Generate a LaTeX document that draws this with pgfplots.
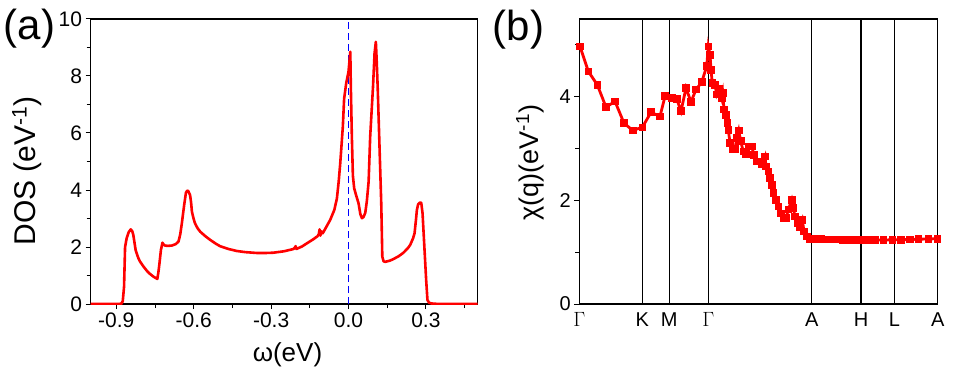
\documentclass[border=0pt]{standalone}
\usepackage{fontspec}
\setmainfont{Liberation Sans}
\usepackage{pgfplots}
\pgfplotsset{compat=1.18}
\begin{document}
\begin{tikzpicture}[x=1bp,y=1bp]
\useasboundingbox (0,0) rectangle (958,375);
\begin{axis}[
  at={(90.5bp,71bp)}, anchor=south west,
  scale only axis, width=387bp, height=285bp,
  xmin=-1.0, xmax=0.5, ymin=0, ymax=10,
  xtick={-0.9,-0.6,-0.3,0,0.3},
  xticklabels={-0.9,-0.6,-0.3,0.0,0.3},
  minor xtick={-0.75,-0.45,-0.15,0.15,0.45},
  ytick={0,2,4,6,8,10},
  minor ytick={1,3,5,7,9},
  tick align=outside, tick pos=left,
  major tick length=5bp, minor tick length=4bp,
  every tick/.style={black, line width=1bp},
  axis line style={line width=1.2bp},
  ticklabel style={font=\fontsize{21bp}{21bp}\selectfont},
  /pgf/number format/assume math mode=true,
  xlabel={ω(eV)},
  xlabel style={at={(axis description cs:0.509,-0.179)}, anchor=center, font=\fontsize{26bp}{26bp}\selectfont},
  ylabel={DOS (eV\textsuperscript{-1})},
  ylabel style={at={(axis description cs:-0.164,0.467)}, anchor=center, font=\fontsize{30bp}{30bp}\selectfont},
]
\addplot[blue, line width=1.8bp, dash pattern=on 7bp off 4bp] coordinates {(0,0) (0,10)};
\addplot[red, line width=2.6bp, line join=round] table {
x y
-1.0 0
-0.90 0
-0.88 0.01
-0.875 0.1
-0.870 0.6
-0.866 2.0
-0.860 2.3
-0.852 2.52
-0.844 2.62
-0.838 2.55
-0.834 2.42
-0.825 1.89
-0.815 1.62
-0.808 1.49
-0.795 1.32
-0.782 1.17
-0.770 1.06
-0.756 0.96
-0.745 0.90
-0.741 0.88
-0.737 1.1
-0.733 1.4
-0.727 1.9
-0.721 2.15
-0.716 2.08
-0.711 2.05
-0.700 2.04
-0.685 2.05
-0.670 2.10
-0.659 2.19
-0.652 2.45
-0.646 2.83
-0.637 3.47
-0.630 3.91
-0.625 3.98
-0.621 3.96
-0.614 3.82
-0.610 3.55
-0.607 3.24
-0.600 2.98
-0.595 2.83
-0.585 2.66
-0.575 2.54
-0.555 2.38
-0.536 2.25
-0.515 2.12
-0.498 2.03
-0.465 1.93
-0.433 1.86
-0.40 1.82
-0.355 1.79
-0.320 1.79
-0.291 1.80
-0.25 1.85
-0.213 1.93
-0.208 1.98
-0.205 2.03
-0.202 1.93
-0.18 2.02
-0.161 2.13
-0.135 2.28
-0.120 2.38
-0.115 2.45
-0.112 2.62
-0.109 2.40
-0.105 2.55
-0.100 2.48
-0.09 2.64
-0.071 2.95
-0.055 3.3
-0.045 3.7
-0.038 4.3
-0.032 4.94
-0.022 6.22
-0.017 7.2
-0.009 7.74
0.0 8.15
0.007 8.85
0.009 7.63
0.013 5.87
0.017 4.5
0.022 4.06
0.030 3.8
0.039 3.53
0.046 3.15
0.052 3.01
0.058 3.05
0.065 3.2
0.071 3.6
0.078 4.3
0.084 5.87
0.095 7.63
0.101 8.8
0.106 9.20
0.109 8.6
0.113 7.63
0.119 5.87
0.127 3.5
0.131 1.66
0.136 1.5
0.142 1.48
0.160 1.52
0.175 1.58
0.195 1.68
0.213 1.80
0.230 1.96
0.239 2.07
0.250 2.3
0.256 2.48
0.262 3.0
0.265 3.3
0.270 3.5
0.277 3.56
0.282 3.55
0.287 3.18
0.294 2.01
0.301 0.84
0.306 0.14
0.312 0.05
0.320 0.02
0.350 0
0.5 0
};
\end{axis}
\begin{axis}[
  at={(579.3bp,71bp)}, anchor=south west,
  scale only axis, width=358.4bp, height=285bp,
  xmin=0, xmax=358.4, ymin=0, ymax=5.5,
  xtick={0,63,90,129,232.4,281.7,315,358.4},
  xticklabels={$\Gamma$,K,M,$\Gamma$,A,H,L,A},
  xmajorgrids, major x grid style={black, line width=1.1bp},
  ytick={0,2,4}, minor ytick={1,3,5},
  tick align=outside, ytick pos=left,
  x tick style={draw=none},
  y tick style={black, line width=1bp},
  major tick length=5bp, minor tick length=4bp,
  axis line style={line width=1.2bp},
  ticklabel style={font=\fontsize{20bp}{20bp}\selectfont},
  /pgf/number format/assume math mode=true,
  ylabel={χ(q)(eV\textsuperscript{-1})},
  ylabel style={at={(axis description cs:-0.1376,0.4965)}, anchor=center, font=\fontsize{27bp}{27bp}\selectfont},
  clip=false,
]
\addplot[red, line width=2.8bp, mark=square*, mark size=3.3bp, mark options={solid, fill=red, line width=0pt}] table {
x y
0.7 4.97
9 4.49
18 4.23
26.7 3.80
35.7 3.91
44.7 3.49
53.4 3.35
63 3.41
71.7 3.70
80.7 3.62
85.7 4.01
92.4 3.97
97.4 3.96
101.7 3.72
106.7 4.17
111.7 3.90
116.7 4.14
122.4 4.28
127.4 4.59
129 4.97
130.7 4.81
131.7 4.52
133 4.26
135.7 4.23
137.4 4.04
140 4.15
142.4 3.97
143.4 4.07
144.7 3.75
146.7 3.65
148 3.49
149 3.36
150.7 3.11
153 2.99
155.7 2.99
157.4 3.20
159.4 3.35
161.4 3.14
164 2.94
166.7 2.90
169.7 3.04
172.4 3.04
174.7 2.88
177.4 2.75
180 2.75
182.4 2.69
185.7 2.85
186.7 2.65
189 2.56
190.7 2.43
192.4 2.30
194 2.14
196.4 2.01
199 1.88
201.4 1.75
204 1.66
206.7 1.66
209 1.82
212.4 2.01
214 1.85
215.7 1.69
218 1.56
220.7 1.49
223 1.62
224.7 1.40
227.4 1.30
230 1.25
233 1.25
236 1.25
239 1.25
242 1.25
245 1.248
248 1.246
251 1.245
254 1.244
257 1.243
260 1.242
263 1.24
266 1.24
269 1.238
272 1.237
275 1.236
278 1.236
281 1.235
287.4 1.235
295.7 1.235
304 1.236
313 1.238
321.7 1.24
330.7 1.245
339 1.25
349 1.255
358 1.26
};
\end{axis}
\node[font=\fontsize{42bp}{42bp}\selectfont] at (29.5,346.5) {(a)};
\node[font=\fontsize{42bp}{42bp}\selectfont] at (518.5,345) {(b)};
\end{tikzpicture}
\end{document}
